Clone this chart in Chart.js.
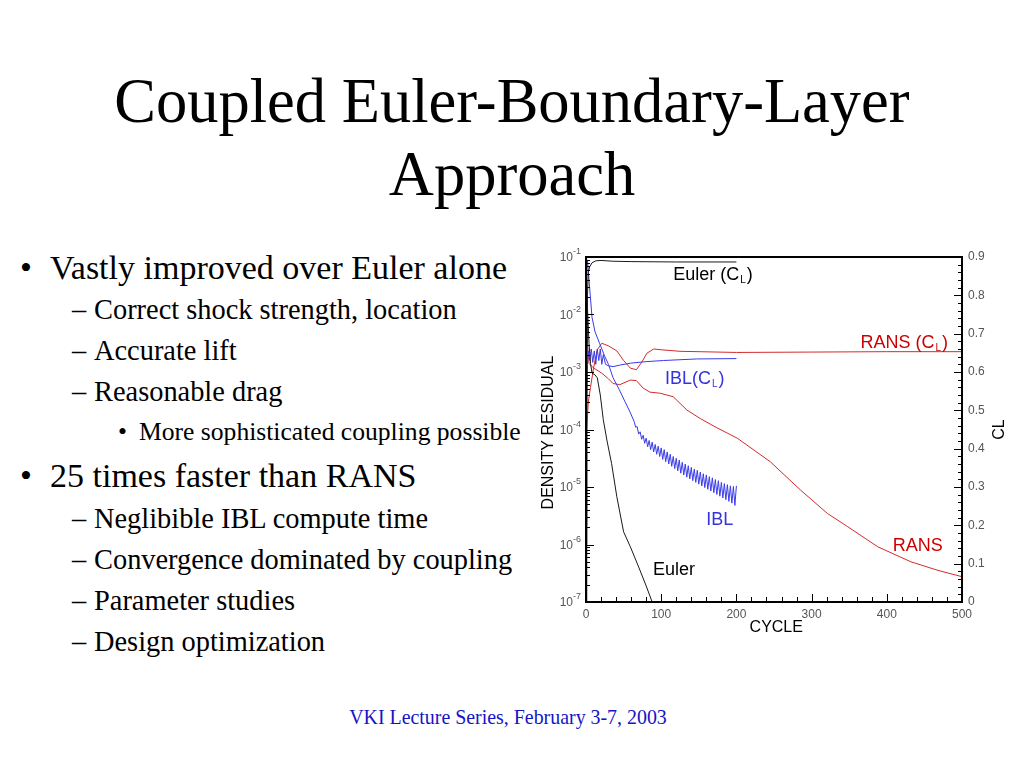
<!DOCTYPE html>
<html>
<head>
<meta charset="utf-8">
<title>Coupled Euler-Boundary-Layer Approach</title>
<script src="https://cdn.jsdelivr.net/npm/chart.js@4.4.0/dist/chart.umd.min.js"></script>
<style>
  body { margin: 0; width: 1024px; height: 768px; background: #fff; overflow: hidden; position: relative; }
  .t { position: absolute; font-family: "Liberation Serif", "Times New Roman", serif; color: #000; white-space: nowrap; line-height: 1; }
  .title { font-size: 62.5px; left: 0; width: 1024px; text-align: center; }
  .l1 { font-size: 34px; left: 50px; }
  .l2 { font-size: 28.4px; left: 94px; }
  .l3 { font-size: 25.6px; left: 139px; }
  .b { position: absolute; }
  .l1 .b { left: -30px; }
  .l2 .b { left: -22px; }
  .l3 .b { left: -21px; }
  .foot { font-size: 19.9px; left: 0; width: 1016px; text-align: center; color: #1414c8; }
  #box { position: absolute; left: 530px; top: 240px; width: 494px; height: 410px; }
</style>
</head>
<body>
<div class="t title" style="top:70px">Coupled Euler-Boundary-Layer</div>
<div class="t title" style="top:143px">Approach</div>

<div class="t l1" style="top:251px"><span class="b">•</span>Vastly improved over Euler alone</div>
<div class="t l2" style="top:296px"><span class="b">–</span>Correct shock strength, location</div>
<div class="t l2" style="top:337px"><span class="b">–</span>Accurate lift</div>
<div class="t l2" style="top:378px"><span class="b">–</span>Reasonable drag</div>
<div class="t l3" style="top:419px"><span class="b">•</span>More sophisticated coupling possible</div>
<div class="t l1" style="top:459px"><span class="b">•</span>25 times faster than RANS</div>
<div class="t l2" style="top:505px"><span class="b">–</span>Neglibible IBL compute time</div>
<div class="t l2" style="top:546px"><span class="b">–</span>Convergence dominated by coupling</div>
<div class="t l2" style="top:587px"><span class="b">–</span>Parameter studies</div>
<div class="t l2" style="top:628px"><span class="b">–</span>Design optimization</div>

<div class="t foot" style="top:708px">VKI Lecture Series, February 3-7, 2003</div>

<div id="box"><canvas id="chart"></canvas></div>

<script>
// lift coefficient (right axis)
const eulerClCycle = [0, 1, 2, 3, 5, 8, 13, 20, 35, 60, 120, 200];
const eulerCl = [0.0, 0.5, 0.8, 0.86, 0.875, 0.885, 0.89, 0.891, 0.889, 0.888, 0.887, 0.887];

const iblClCycle = [0, 1, 2, 3, 5, 7, 9, 11, 13, 15, 17, 19, 21, 23, 26, 30, 36, 45, 59, 80, 103, 147, 200];
const iblCl = [0.15, 0.5, 0.62, 0.655, 0.63, 0.66, 0.625, 0.655, 0.62, 0.66, 0.63, 0.66, 0.62, 0.645, 0.62, 0.616, 0.614, 0.618, 0.623, 0.627, 0.63, 0.634, 0.635];

const ransClCycle = [0, 1, 3, 6, 10, 15, 21, 30, 41, 50, 59, 67, 74, 81, 90, 100, 125, 200, 300, 400, 500];
const ransCl = [0.2, 0.45, 0.52, 0.56, 0.61, 0.658, 0.675, 0.668, 0.655, 0.63, 0.61, 0.606, 0.625, 0.649, 0.66, 0.658, 0.654, 0.651, 0.652, 0.653, 0.653];

// density residual, stored as log10 exponents (left axis)
const eulerResCycle = [0, 2, 4, 6, 8, 12, 15, 19, 23, 28, 34, 41, 50, 59, 70, 80, 88];
const eulerResExp = [-1.2, -1.9, -2.5, -2.85, -3.02, -3.05, -3.1, -3.4, -3.83, -4.2, -4.59, -5.17, -5.78, -6.04, -6.39, -6.72, -7.0];

const iblResCycle = [0, 1, 2, 4, 8, 12, 18, 25, 30, 36, 44, 52, 58, 62,
  64, 66, 68, 70, 72, 74, 76, 78, 80, 82, 84, 86, 88, 90, 92, 94, 96, 98, 100,
  102, 104, 106, 108, 110, 112, 114, 116, 118, 120, 122, 124, 126, 128, 130, 132, 134, 136, 138, 140,
  142, 144, 146, 148, 150, 152, 154, 156, 158, 160, 162, 164, 166, 168, 170, 172, 174, 176, 178, 180,
  182, 184, 186, 188, 190, 192, 194, 196, 198, 200];
const iblResExp = [-2.4, -1.3, -1.05, -1.4, -2.05, -2.3, -2.5, -2.73, -2.87, -3.1, -3.3, -3.52, -3.68, -3.8,
  -3.86, -3.96, -3.95, -4.08, -4.04, -4.17, -4.10, -4.24, -4.15, -4.30, -4.19, -4.35, -4.22, -4.39, -4.26, -4.43, -4.29, -4.47, -4.32,
  -4.52, -4.35, -4.56, -4.39, -4.60, -4.43, -4.64, -4.47, -4.68, -4.50, -4.72, -4.53, -4.76, -4.57, -4.79, -4.60, -4.83, -4.63, -4.86, -4.66,
  -4.89, -4.69, -4.92, -4.71, -4.95, -4.74, -4.98, -4.77, -5.01, -4.79, -5.04, -4.82, -5.07, -4.84, -5.10, -4.87, -5.13, -4.89, -5.16, -4.92,
  -5.19, -4.94, -5.22, -4.96, -5.25, -4.98, -5.28, -4.99, -5.32, -4.98];

const ransResCycle = [0, 1, 2, 4, 10, 21, 30, 36, 45, 59, 67, 76, 85, 99, 116, 134, 152, 174, 201, 245, 285, 321, 348, 388, 432, 468, 500];
const ransResExp = [-1.9, -2.2, -2.5, -2.85, -2.93, -3.02, -3.12, -3.2, -3.22, -3.14, -3.15, -3.28, -3.35, -3.37, -3.43, -3.66, -3.81, -3.97, -4.15, -4.56, -5.05, -5.46, -5.69, -6.04, -6.3, -6.45, -6.56];

const decadeExps = [-1, -2, -3, -4, -5, -6, -7];

const RED = '#d42a2a';
const BLUE = '#3a3ae8';
const BLACK = '#1a1a1a';

function pts(xs, ys) {
  return xs.map((c, i) => ({ x: c, y: ys[i] }));
}
function logPts(xs, es) {
  return xs.map((c, i) => ({ x: c, y: Math.pow(10, es[i]) }));
}

// curve labels, placed in (cycle, CL) units
const curveLabels = [
  { text: 'Euler (C', sub: 'L', after: ')', cycle: 116, cl: 0.841, color: '#000' },
  { text: 'RANS (C', sub: 'L', after: ')', cycle: 365, cl: 0.663, color: '#cc0000' },
  { text: 'IBL(C', sub: 'L', after: ')', cycle: 105, cl: 0.569, color: '#3333dd' },
  { text: 'IBL', sub: '', after: '', cycle: 160, cl: 0.20, color: '#3333dd' },
  { text: 'RANS', sub: '', after: '', cycle: 408, cl: 0.133, color: '#cc0000' },
  { text: 'Euler', sub: '', after: '', cycle: 89, cl: 0.07, color: '#000' }
];

const sans = '"Liberation Sans", Arial, sans-serif';

const decor = {
  id: 'decor',
  afterDatasetsDraw(chart) {
    const ctx = chart.ctx;
    const a = chart.chartArea;
    const x = chart.scales.x, y = chart.scales.y, y1 = chart.scales.y1;
    ctx.save();

    // inward tick marks
    ctx.strokeStyle = '#000';
    ctx.lineWidth = 1;
    ctx.beginPath();
    for (let c = 0; c <= 500; c += 20) {
      const px = Math.round(x.getPixelForValue(c)) + 0.5;
      const len = c % 100 === 0 ? 8 : 5;
      ctx.moveTo(px, a.bottom);
      ctx.lineTo(px, a.bottom - len);
    }
    for (let n = -7; n <= -1; n++) {
      for (let k = 1; k <= 9; k++) {
        if (n === -1 && k > 1) break;
        const py = Math.round(y.getPixelForValue(k * Math.pow(10, n))) + 0.5;
        const len = k === 1 ? 8 : 4;
        ctx.moveTo(a.left, py);
        ctx.lineTo(a.left + len, py);
      }
    }
    for (let i = 0; i <= 45; i++) {
      const py = Math.round(y1.getPixelForValue(i * 0.02)) + 0.5;
      const len = i % 5 === 0 ? 8 : 4;
      ctx.moveTo(a.right, py);
      ctx.lineTo(a.right - len, py);
    }
    ctx.stroke();

    // frame
    ctx.lineWidth = 2;
    ctx.strokeRect(a.left, a.top, a.right - a.left, a.bottom - a.top);

    // log axis labels 10^n
    ctx.fillStyle = '#555';
    ctx.textBaseline = 'middle';
    decadeExps.forEach(n => {
      const py = y.getPixelForValue(Math.pow(10, n));
      ctx.font = '9px ' + sans;
      const exp = '-' + Math.abs(n);
      const we = ctx.measureText(exp).width;
      ctx.textAlign = 'left';
      ctx.fillText(exp, a.left - 5 - we, py - 5);
      ctx.font = '12px ' + sans;
      ctx.textAlign = 'right';
      ctx.fillText('10', a.left - 5 - we, py + 1);
    });

    // axis titles
    ctx.fillStyle = '#000';
    ctx.font = '16px ' + sans;
    ctx.textAlign = 'center';
    ctx.textBaseline = 'middle';
    ctx.fillText('CYCLE', x.getPixelForValue(253), a.bottom + 26);
    ctx.save();
    ctx.translate(a.left - 37, (a.top + a.bottom) / 2 + 3);
    ctx.rotate(-Math.PI / 2);
    ctx.fillText('DENSITY RESIDUAL', 0, 0);
    ctx.restore();
    ctx.save();
    ctx.translate(a.right + 38, (a.top + a.bottom) / 2);
    ctx.rotate(-Math.PI / 2);
    ctx.fillText('CL', 0, 0);
    ctx.restore();

    // curve labels
    ctx.textAlign = 'left';
    ctx.textBaseline = 'alphabetic';
    curveLabels.forEach(l => {
      let px = x.getPixelForValue(l.cycle);
      const py = y1.getPixelForValue(l.cl);
      ctx.fillStyle = l.color;
      ctx.font = '18px ' + sans;
      ctx.fillText(l.text, px, py);
      px += ctx.measureText(l.text).width;
      if (l.sub) {
        ctx.font = '10px ' + sans;
        ctx.fillText(l.sub, px + 1, py + 3);
        px += ctx.measureText(l.sub).width + 2;
        ctx.font = '18px ' + sans;
        ctx.fillText(l.after, px, py);
      }
    });
    ctx.restore();
  }
};

function line(label, data, color, axis) {
  return {
    label: label,
    data: data,
    borderColor: color,
    borderWidth: 1,
    pointRadius: 0,
    fill: false,
    tension: 0,
    yAxisID: axis
  };
}

new Chart(document.getElementById('chart').getContext('2d'), {
  type: 'line',
  data: {
    datasets: [
      line('Euler (CL)', pts(eulerClCycle, eulerCl), BLACK, 'y1'),
      line('Euler', logPts(eulerResCycle, eulerResExp), BLACK, 'y'),
      line('IBL (CL)', pts(iblClCycle, iblCl), BLUE, 'y1'),
      line('IBL', logPts(iblResCycle, iblResExp), BLUE, 'y'),
      line('RANS (CL)', pts(ransClCycle, ransCl), RED, 'y1'),
      line('RANS', logPts(ransResCycle, ransResExp), RED, 'y')
    ]
  },
  options: {
    responsive: true,
    maintainAspectRatio: false,
    animation: false,
    layout: { padding: { top: 17, left: 0, right: 0, bottom: 0 } },
    plugins: { legend: { display: false }, tooltip: { enabled: false } },
    scales: {
      x: {
        type: 'linear',
        position: 'bottom',
        min: 0,
        max: 500,
        grid: { display: false, drawTicks: false },
        border: { display: false },
        ticks: { stepSize: 100, padding: 5, color: '#555', font: { family: sans, size: 12 } },
        afterFit: s => { s.height = 48; }
      },
      y: {
        type: 'logarithmic',
        position: 'left',
        min: 1e-7,
        max: 1e-1,
        grid: { display: false, drawTicks: false },
        border: { display: false },
        ticks: { display: false },
        afterFit: s => { s.width = 56; }
      },
      y1: {
        type: 'linear',
        position: 'right',
        min: 0,
        max: 0.9,
        grid: { display: false, drawTicks: false },
        border: { display: false },
        ticks: {
          stepSize: 0.1,
          padding: 6,
          color: '#555',
          font: { family: sans, size: 12 },
          callback: v => (v === 0 ? '0' : v.toFixed(1))
        },
        afterFit: s => { s.width = 62; }
      }
    }
  },
  plugins: [decor]
});
</script>
</body>
</html>
